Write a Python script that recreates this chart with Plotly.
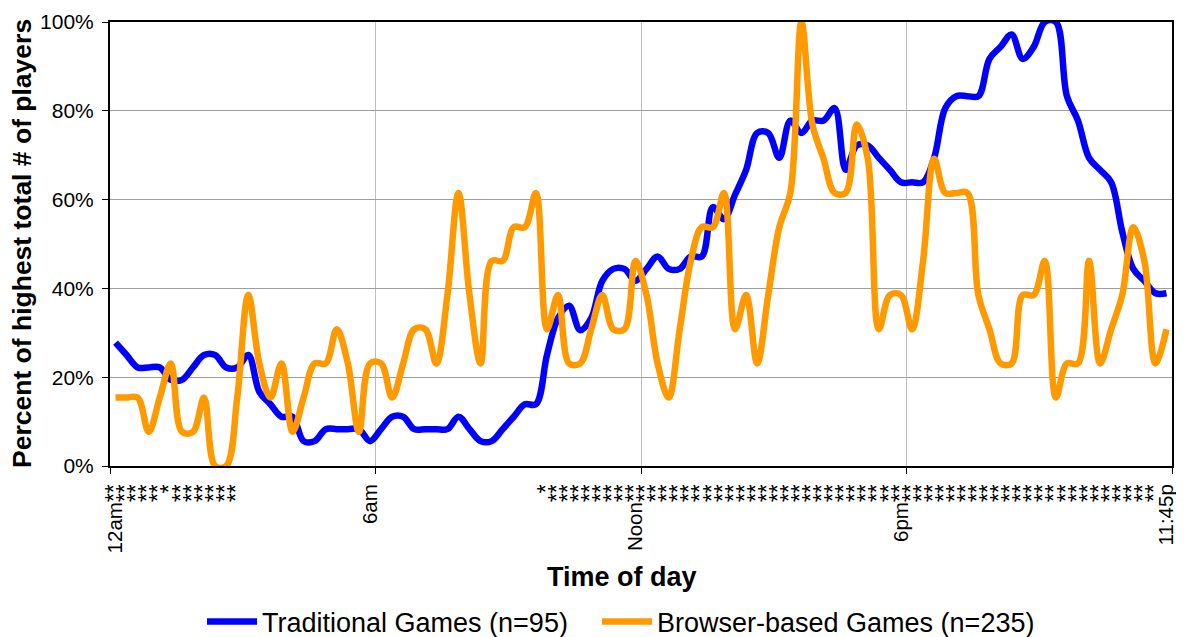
import plotly.graph_objects as go

# 96 quarter-hour slots, 12am .. 11:45pm
slots = list(range(96))

# x tick labels (asterisks mark significant differences)
tick_labels = (
    ["12am**", "**", "**", "**", "**", "*", "**", "**", "**", "**", "**", "**"]
    + [""] * 11 + ["6am"] + [""] * 15
    + ["*"] + ["**"] * 7 + ["Noon**"] + ["**"] * 23 + ["6pm**"] + ["**"] * 23
    + ["11:45p"]
)

# Percent of highest total # of players
traditional = [
    27.8, 25.0, 22.2, 22.2, 22.2, 19.4, 19.4, 22.2, 25.0, 25.0, 22.2, 22.2,
    25.0, 16.7, 13.9, 11.1, 11.1, 5.6, 5.6, 8.3, 8.3, 8.3, 8.3, 5.6,
    8.3, 11.1, 11.1, 8.3, 8.3, 8.3, 8.3, 11.1, 8.3, 5.6, 5.6, 8.3,
    11.1, 13.9, 13.9, 25.0, 33.3, 36.1, 30.6, 33.3, 41.7, 44.4, 44.4, 41.7,
    44.4, 47.2, 44.4, 44.4, 47.2, 47.2, 58.3, 55.6, 61.1, 66.7, 75.0, 75.0,
    69.4, 77.8, 75.0, 77.8, 77.8, 80.6, 66.7, 72.2, 72.2, 69.4, 66.7, 63.9,
    63.9, 63.9, 69.4, 80.6, 83.3, 83.3, 83.3, 91.7, 94.4, 97.2, 91.7, 94.4,
    100.0, 100.0, 83.3, 77.8, 69.4, 66.7, 63.9, 52.8, 44.4, 41.7, 38.9, 38.9,
]

browser = [
    15.4, 15.4, 15.4, 7.7, 15.4, 23.1, 7.7, 7.7, 15.4, 0.0, 0.0, 15.4,
    38.5, 23.1, 15.4, 23.1, 7.7, 15.4, 23.1, 23.1, 30.8, 23.1, 7.7, 23.1,
    23.1, 15.4, 23.1, 30.8, 30.8, 23.1, 38.5, 61.5, 38.5, 23.1, 46.2, 46.2,
    53.8, 53.8, 61.5, 30.8, 38.5, 23.1, 23.1, 30.8, 38.5, 30.8, 30.8, 46.2,
    38.5, 23.1, 15.4, 30.8, 46.2, 53.8, 53.8, 61.5, 30.8, 38.5, 23.1, 38.5,
    53.8, 61.5, 100.0, 76.9, 69.2, 61.5, 61.5, 76.9, 69.2, 30.8, 38.5, 38.5,
    30.8, 46.2, 69.2, 61.5, 61.5, 61.5, 38.5, 30.8, 23.1, 23.1, 38.5, 38.5,
    46.2, 15.4, 23.1, 23.1, 46.2, 23.1, 30.8, 38.5, 53.8, 46.2, 23.1, 30.8,
]

series_names = ["Traditional Games (n=95)", "Browser-based Games (n=235)"]
series_colors = ["#0000FF", "#FF9900"]

x_title = "Time of day"
y_title = "Percent of highest total # of players"

FONT = "Liberation Sans, Arial, sans-serif"
# the page body has an 8px default margin, so the figure is drawn 8px smaller
W, H = 1176, 629


def star_markup(label):
    core = label.rstrip("*")
    stars = label[len(core):]
    if stars:
        return core + "<span style='font-size:23px'>" + stars + "</span>"
    return core


fig = go.Figure()
for k, (name, vals, col) in enumerate(zip(series_names, [traditional, browser], series_colors)):
    fig.add_trace(go.Scatter(
        x=slots, y=vals, name=name, mode="lines",
        line=dict(color=col, width=6.5, shape="spline", smoothing=1.0),
        legendwidth=330 if k == 0 else None,
    ))

fig.update_layout(
    width=W, height=H,
    margin=dict(l=102, r=12, t=14, b=171, autoexpand=False),
    paper_bgcolor="white", plot_bgcolor="white",
    font=dict(family=FONT, color="black"),
    showlegend=True,
    legend=dict(
        orientation="h", xref="container", yref="container",
        x=613 / W, xanchor="center", y=1 - 614 / H, yanchor="middle",
        font=dict(size=27, family=FONT), itemwidth=50, tracegroupgap=0,
    ),
    annotations=[
        dict(text="<b>" + x_title + "</b>", xref="paper", yref="paper",
             x=0.5 - 19 / 1062, y=-(577 - 466) / 444, xanchor="center", yanchor="middle",
             showarrow=False, font=dict(size=27, family=FONT)),
        dict(text="<b>" + y_title + "</b>", xref="paper", yref="paper",
             x=-(110 - 22) / 1062, y=0.5, xanchor="center", yanchor="middle",
             textangle=-90, showarrow=False, font=dict(size=26.5, family=FONT)),
    ],
)

fig.update_xaxes(
    range=[-0.5, 95.5], automargin=False,
    tickmode="array", tickvals=slots, ticktext=[star_markup(t) for t in tick_labels],
    tickangle=-90, ticks="", showgrid=False,
    tickfont=dict(size=20.5, family=FONT),
    ticklabelstandoff=8,
    showline=True, linecolor="black", linewidth=2, mirror=True,
    minor=dict(tickmode="array", tickvals=[-0.5, 23.5, 47.5, 71.5, 95.5],
               ticks="outside", ticklen=6, tickcolor="black", tickwidth=1,
               showgrid=True, gridcolor="#BDBDBD", gridwidth=1),
    zeroline=False,
)

fig.update_yaxes(
    range=[0, 100], automargin=False, tickmode="linear", tick0=0, dtick=20, ticksuffix="%",
    ticks="outside", ticklen=6, tickcolor="black", tickwidth=1,
    tickfont=dict(size=21, family=FONT), ticklabelstandoff=4,
    showgrid=True, gridcolor="#9E9E9E", gridwidth=1,
    showline=True, linecolor="black", linewidth=2, mirror=True,
    zeroline=False,
)

fig.write_html("out.html")
